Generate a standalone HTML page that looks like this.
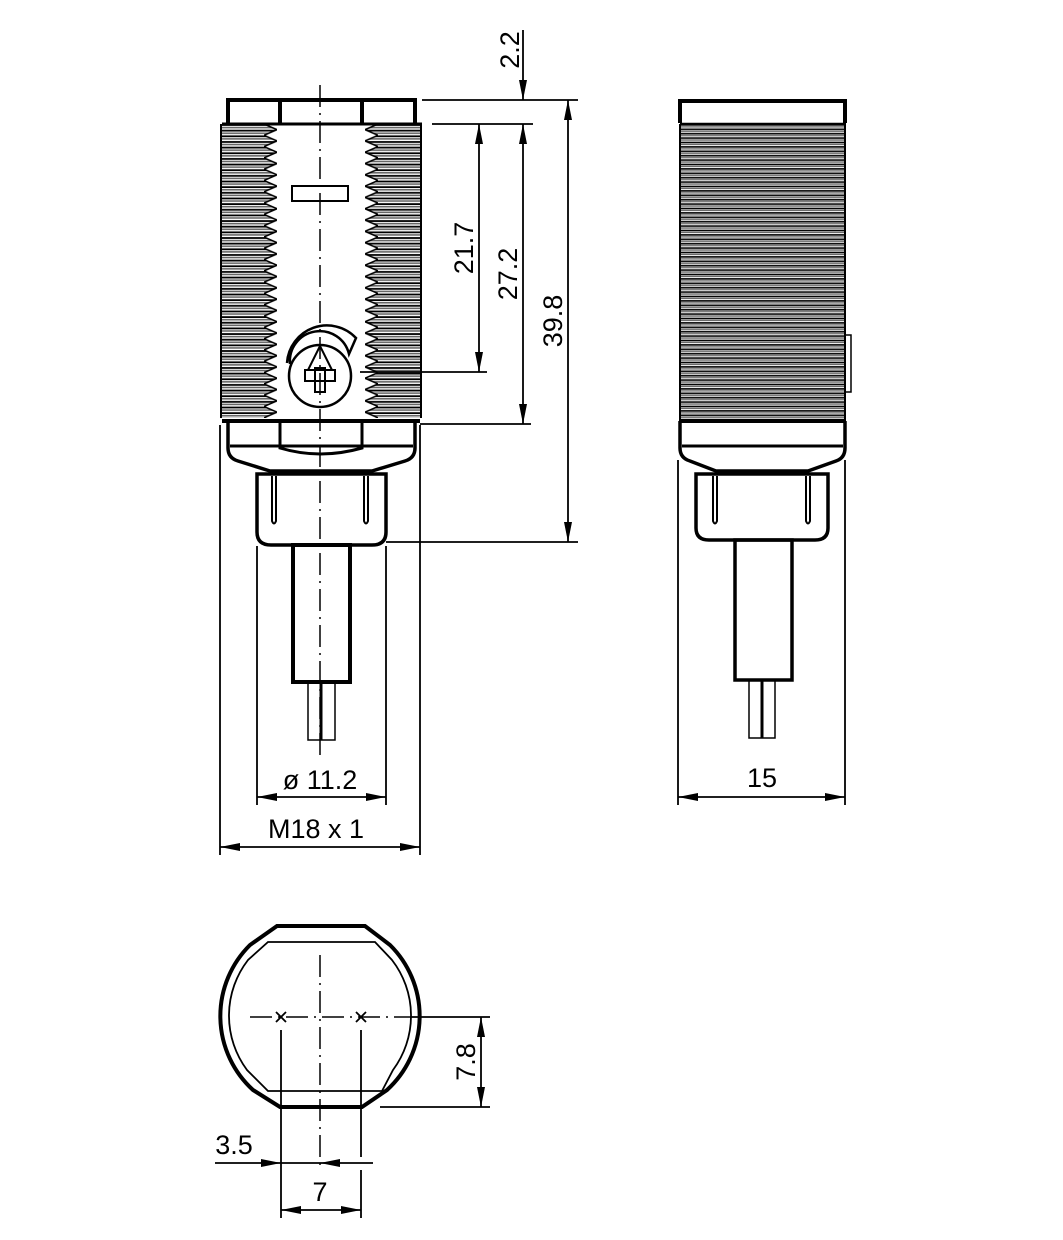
<!DOCTYPE html>
<html><head><meta charset="utf-8"><style>
html,body{margin:0;padding:0;background:#fff;}
svg{display:block;}
text{font-family:"Liberation Sans",sans-serif;font-size:27px;fill:#000;}
</style></head><body>
<svg width="1063" height="1240" viewBox="0 0 1063 1240" xmlns="http://www.w3.org/2000/svg">
<defs>
<pattern id="str" x="0" y="124" width="10" height="5.65" patternUnits="userSpaceOnUse">
<rect width="10" height="5.65" fill="#fff"/>
<line x1="0" y1="1" x2="10" y2="1" stroke="#000" stroke-width="1.8"/>
<line x1="0" y1="3.6" x2="10" y2="3.6" stroke="#666" stroke-width="1.6"/>
</pattern>
<pattern id="tL" x="264" y="124" width="13" height="11.3" patternUnits="userSpaceOnUse">
<polygon points="0,0 13,0 13,5.65" fill="#fff"/><polygon points="0,11.3 13,5.65 13,11.3" fill="#fff"/>
<polyline points="0,0 13,5.65 0,11.3" fill="none" stroke="#000" stroke-width="1.5"/>
</pattern>
<pattern id="tR" x="365" y="124" width="13" height="11.3" patternUnits="userSpaceOnUse">
<polygon points="0,0 13,0 0,5.65" fill="#fff"/><polygon points="0,11.3 0,5.65 13,11.3" fill="#fff"/>
<polyline points="13,0 0,5.65 13,11.3" fill="none" stroke="#000" stroke-width="1.5"/>
</pattern>
<pattern id="hs" x="0" y="124" width="10" height="4.4" patternUnits="userSpaceOnUse">
<rect width="10" height="4.4" fill="#fff"/>
<line x1="0" y1="0.9" x2="10" y2="0.9" stroke="#000" stroke-width="1.6"/>
<line x1="0" y1="2.9" x2="10" y2="2.9" stroke="#666" stroke-width="1.3"/>
</pattern>
<marker id="a" viewBox="0 0 20 8" refX="20" refY="4" markerWidth="20" markerHeight="8" markerUnits="userSpaceOnUse" orient="auto-start-reverse"><path d="M0,0 L20,4 L0,8 Z" fill="#000"/></marker>
</defs>
<g fill="none" stroke="#000">
<rect x="221" y="124" width="56" height="294" fill="url(#str)" stroke="none"/>
<rect x="264" y="124" width="13" height="294" fill="url(#tL)" stroke="none"/>
<rect x="365" y="124" width="56" height="294" fill="url(#str)" stroke="none"/>
<rect x="365" y="124" width="13" height="294" fill="url(#tR)" stroke="none"/>
<line x1="221" y1="124" x2="221" y2="418" stroke-width="2"/>
<line x1="421" y1="124" x2="421" y2="418" stroke-width="2"/>
<path d="M228,123 V100 H415 V123" stroke-width="4"/>
<line x1="222" y1="124" x2="422" y2="124" stroke-width="3"/>
<line x1="280" y1="100" x2="280" y2="123" stroke-width="4"/>
<line x1="362" y1="100" x2="362" y2="123" stroke-width="4"/>
<line x1="222" y1="421" x2="420" y2="421" stroke-width="4"/>
<path d="M228,421 V448 Q228,458 238,461 L270,471 H372 L405,461 Q415,458 415,448 V421" stroke-width="3.5"/>
<line x1="230" y1="446" x2="413" y2="446" stroke-width="3"/>
<path d="M280,421 V448 Q320,460 362,448 V421" stroke-width="3"/>
<path d="M257,474 H386 V532 Q386,545 372,545 H271 Q257,545 257,532 Z" stroke-width="3.5"/>
<path d="M272,476 V521 Q274,526 276,521 V476 M364,476 V521 Q366,526 368,521 V476" stroke-width="2"/>
<rect x="293" y="545" width="57" height="137" stroke-width="4"/>
<rect x="308" y="682" width="27" height="58" stroke-width="1.5"/>
<line x1="321" y1="682" x2="321" y2="740" stroke-width="3"/>
<rect x="292" y="186" width="56" height="15" stroke-width="2"/>
<circle cx="320" cy="376" r="31" stroke-width="2.5"/>
<path d="M287,363 A40,40 0 0 1 356,338 L349,354 A30,30 0 0 0 290,364" stroke-width="2.5"/>
<path d="M320,346 L308,370 H332 Z" stroke-width="2"/>
<rect x="305" y="370" width="30" height="11" stroke-width="2"/>
<rect x="315" y="368" width="10" height="24" stroke-width="2"/>
<line x1="320" y1="85" x2="320" y2="760" stroke-width="1.5" stroke-dasharray="22,6,2,6"/>
<g stroke-width="1.8">
<line x1="422" y1="100" x2="578" y2="100"/>
<line x1="432" y1="124" x2="533" y2="124"/>
<line x1="360" y1="372" x2="487" y2="372"/>
<line x1="420" y1="424" x2="531" y2="424"/>
<line x1="386" y1="542" x2="578" y2="542"/>
<line x1="523" y1="30" x2="523" y2="100" marker-end="url(#a)"/>
<line x1="479" y1="124" x2="479" y2="372" marker-start="url(#a)" marker-end="url(#a)"/>
<line x1="523" y1="124" x2="523" y2="424" marker-start="url(#a)" marker-end="url(#a)"/>
<line x1="568" y1="100" x2="568" y2="542" marker-start="url(#a)" marker-end="url(#a)"/>
<line x1="257" y1="546" x2="257" y2="805"/>
<line x1="386" y1="546" x2="386" y2="805"/>
<line x1="220" y1="425" x2="220" y2="855"/>
<line x1="420" y1="425" x2="420" y2="855"/>
<line x1="257" y1="797" x2="386" y2="797" marker-start="url(#a)" marker-end="url(#a)"/>
<line x1="220" y1="847" x2="420" y2="847" marker-start="url(#a)" marker-end="url(#a)"/>
</g>
<rect x="680" y="124" width="165" height="296" fill="url(#hs)" stroke="none"/>
<line x1="680" y1="124" x2="680" y2="420" stroke-width="2"/>
<line x1="845" y1="124" x2="845" y2="420" stroke-width="2"/>
<path d="M680,123 V101 H845 V123" stroke-width="4"/>
<line x1="680" y1="124" x2="846" y2="124" stroke-width="2.5"/>
<line x1="679" y1="421" x2="846" y2="421" stroke-width="4"/>
<path d="M680,421 V448 Q680,458 690,461 L716,471 H808 L836,461 Q845,458 845,448 V421" stroke-width="3.5"/>
<line x1="682" y1="446" x2="843" y2="446" stroke-width="3"/>
<path d="M846,335 H851 V392 H846" stroke-width="1.5"/>
<path d="M696,474 H828 V528 Q828,540 815,540 H709 Q696,540 696,528 Z" stroke-width="3.5"/>
<path d="M713,476 V521 Q715,526 717,521 V476 M806,476 V521 Q808,526 810,521 V476" stroke-width="2"/>
<rect x="735" y="540" width="57" height="140" stroke-width="3.5"/>
<rect x="749" y="680" width="26" height="58" stroke-width="1.5"/>
<line x1="762" y1="680" x2="762" y2="738" stroke-width="3"/>
<g stroke-width="1.8">
<line x1="678" y1="460" x2="678" y2="805"/>
<line x1="845" y1="460" x2="845" y2="805"/>
<line x1="678" y1="797" x2="845" y2="797" marker-start="url(#a)" marker-end="url(#a)"/>
</g>
<path d="M277,926 H365 L390,945 A100,100 0 0 1 387,1090 L362,1107 H280 L253,1090 A100,100 0 0 1 250,945 Z" stroke-width="4"/>
<path d="M268,942 H375 L392,960 A91,91 0 0 1 393,1070 L382,1091 H268 L247,1070 A91,91 0 0 1 248,960 Z" stroke-width="1.8"/>
<line x1="320" y1="955" x2="320" y2="1170" stroke-width="1.5" stroke-dasharray="22,6,2,6"/>
<line x1="250" y1="1017" x2="410" y2="1017" stroke-width="1.5" stroke-dasharray="22,6,2,6"/>
<path d="M276,1012 L286,1022 M286,1012 L276,1022 M356,1012 L366,1022 M366,1012 L356,1022" stroke-width="1.8"/>
<g stroke-width="1.8">
<line x1="410" y1="1017" x2="490" y2="1017"/>
<line x1="380" y1="1107" x2="490" y2="1107"/>
<line x1="481" y1="1017" x2="481" y2="1107" marker-start="url(#a)" marker-end="url(#a)"/>
<line x1="281" y1="1030" x2="281" y2="1218"/>
<line x1="361" y1="1030" x2="361" y2="1157"/>
<line x1="361" y1="1170" x2="361" y2="1218"/>
<line x1="215" y1="1163" x2="281" y2="1163" marker-end="url(#a)"/>
<line x1="373" y1="1163" x2="320" y2="1163" marker-end="url(#a)"/>
<line x1="281" y1="1163" x2="320" y2="1163"/>
<line x1="281" y1="1210" x2="361" y2="1210" marker-start="url(#a)" marker-end="url(#a)"/>
</g>
</g>
<text x="0" y="0" text-anchor="middle" transform="translate(519,50) rotate(-90)">2.2</text>
<text x="0" y="0" text-anchor="middle" transform="translate(473,248) rotate(-90)">21.7</text>
<text x="0" y="0" text-anchor="middle" transform="translate(517,274) rotate(-90)">27.2</text>
<text x="0" y="0" text-anchor="middle" transform="translate(562,321) rotate(-90)">39.8</text>
<text x="320" y="789" text-anchor="middle">ø 11.2</text>
<text x="316" y="838" text-anchor="middle">M18 x 1</text>
<text x="762" y="787" text-anchor="middle">15</text>
<text x="0" y="0" text-anchor="middle" transform="translate(475,1062) rotate(-90)">7.8</text>
<text x="234" y="1154" text-anchor="middle">3.5</text>
<text x="320" y="1201" text-anchor="middle">7</text>
</svg>
</body></html>
